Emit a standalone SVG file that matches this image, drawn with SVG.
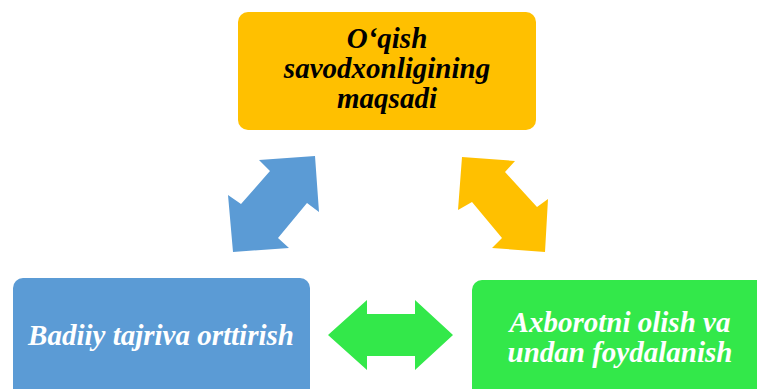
<svg xmlns="http://www.w3.org/2000/svg" width="757" height="389" viewBox="0 0 757 389">
<style>
.t{font-family:"Liberation Serif","Times New Roman",serif;font-weight:bold;font-style:italic;font-size:29px;text-anchor:middle}
.dark{fill:#000}
.light{fill:#fff}
</style>
<rect width="757" height="389" fill="#fff"/>
<g id="connectors">
<polygon fill="#5B9BD5" points="315,156 259,160 270,171 241,204 228,195 233,252 289,248 278,238 307,203 319,212"/>
<polygon fill="#FFC000" points="462,157 515,161 505,172 537,207 548,199 545,252 492,248 502,238 472,202 458,210"/>
<polygon fill="#33E84A" points="328,335 367,300 367,314 415,314 415,300 453,335 415,370 415,356 367,356 367,370"/>
</g>
<g id="node-top">
<rect x="238" y="12" width="298" height="118" rx="10" fill="#FFC000"/>
<text class="t dark" x="387" y="48">O‘qish</text>
<text class="t dark" x="387" y="78">savodxonligining</text>
<text class="t dark" x="387" y="108">maqsadi</text>
</g>
<g id="node-left">
<rect x="13" y="278" width="297" height="130" rx="10" fill="#5B9BD5"/>
<text class="t light" x="161" y="345">Badiiy tajriva orttirish</text>
</g>
<g id="node-right">
<rect x="472" y="280" width="300" height="130" rx="10" fill="#33E84A"/>
<text class="t light" x="620" y="332">Axborotni olish va</text>
<text class="t light" x="620" y="362">undan foydalanish</text>
</g>
</svg>
